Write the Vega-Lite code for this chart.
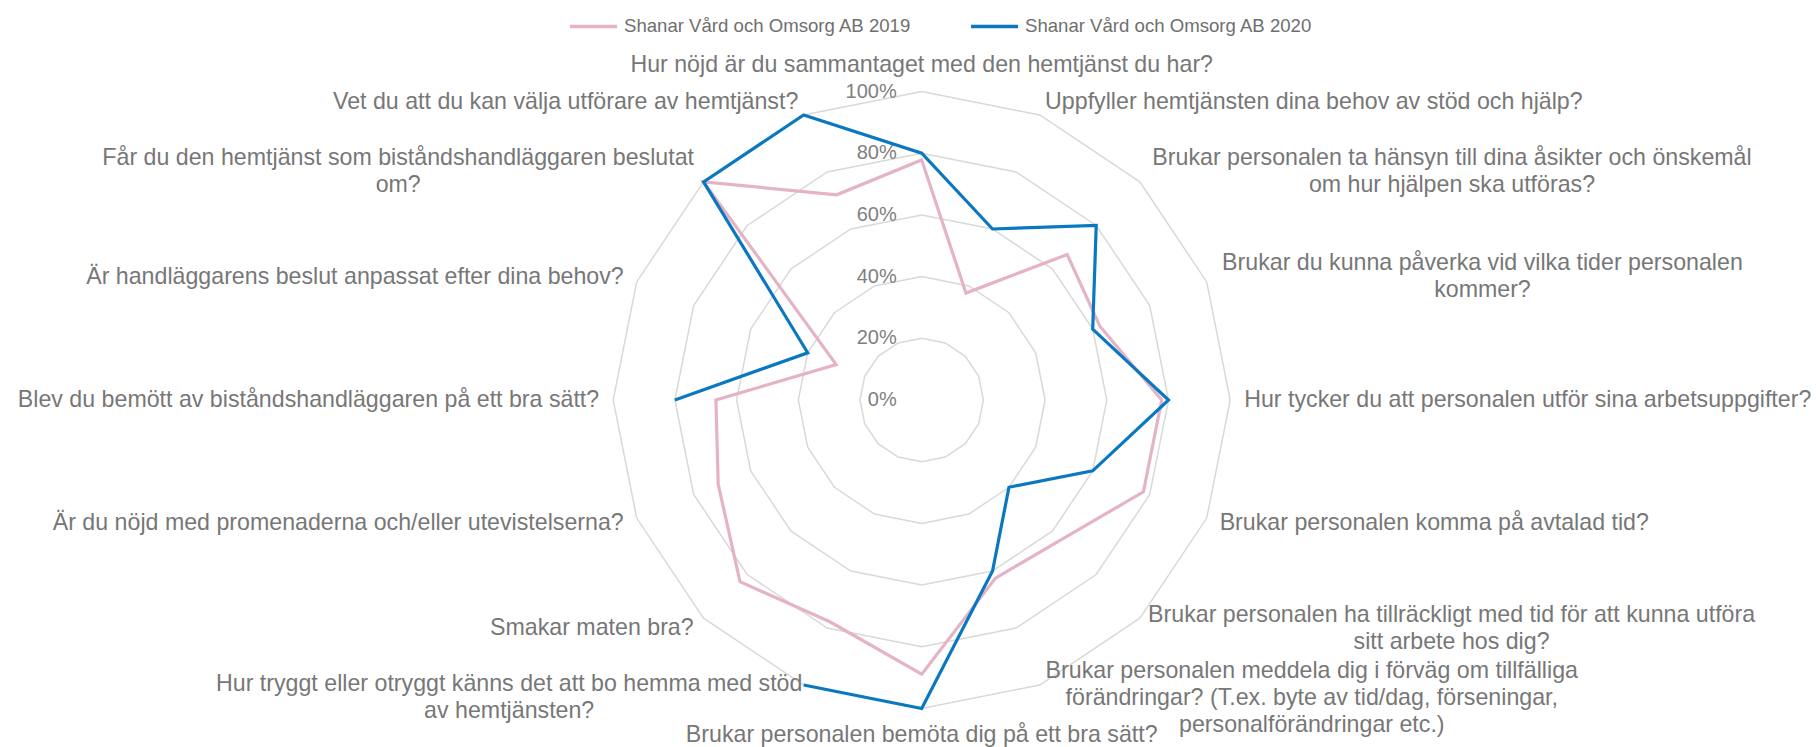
{
  "$schema": "https://vega.github.io/schema/vega-lite/v6.json",
  "width": 1816,
  "height": 747,
  "padding": 0,
  "autosize": {"type": "none"},
  "background": "white",
  "config": {"view": {"stroke": null}, "font": "Liberation Sans"},
  "datasets": {
    "series": [
      {"idx": 0, "series": "Shanar Vård och Omsorg AB 2019", "value": 77.8},
      {"idx": 1, "series": "Shanar Vård och Omsorg AB 2019", "value": 37.5},
      {"idx": 2, "series": "Shanar Vård och Omsorg AB 2019", "value": 66.7},
      {"idx": 3, "series": "Shanar Vård och Omsorg AB 2019", "value": 62.5},
      {"idx": 4, "series": "Shanar Vård och Omsorg AB 2019", "value": 77.8},
      {"idx": 5, "series": "Shanar Vård och Omsorg AB 2019", "value": 77.8},
      {"idx": 6, "series": "Shanar Vård och Omsorg AB 2019", "value": 64},
      {"idx": 7, "series": "Shanar Vård och Omsorg AB 2019", "value": 62.5},
      {"idx": 8, "series": "Shanar Vård och Omsorg AB 2019", "value": 88.9},
      {"idx": 9, "series": "Shanar Vård och Omsorg AB 2019", "value": 77.8},
      {"idx": 10, "series": "Shanar Vård och Omsorg AB 2019", "value": 83.3},
      {"idx": 11, "series": "Shanar Vård och Omsorg AB 2019", "value": 71.4},
      {"idx": 12, "series": "Shanar Vård och Omsorg AB 2019", "value": 66.7},
      {"idx": 13, "series": "Shanar Vård och Omsorg AB 2019", "value": 30},
      {"idx": 14, "series": "Shanar Vård och Omsorg AB 2019", "value": 100},
      {"idx": 15, "series": "Shanar Vård och Omsorg AB 2019", "value": 72},
      {"idx": 0, "series": "Shanar Vård och Omsorg AB 2020", "value": 80},
      {"idx": 1, "series": "Shanar Vård och Omsorg AB 2020", "value": 60},
      {"idx": 2, "series": "Shanar Vård och Omsorg AB 2020", "value": 80},
      {"idx": 3, "series": "Shanar Vård och Omsorg AB 2020", "value": 60},
      {"idx": 4, "series": "Shanar Vård och Omsorg AB 2020", "value": 80},
      {"idx": 5, "series": "Shanar Vård och Omsorg AB 2020", "value": 60},
      {"idx": 6, "series": "Shanar Vård och Omsorg AB 2020", "value": 40},
      {"idx": 7, "series": "Shanar Vård och Omsorg AB 2020", "value": 60},
      {"idx": 8, "series": "Shanar Vård och Omsorg AB 2020", "value": 100},
      {"idx": 9, "series": "Shanar Vård och Omsorg AB 2020", "value": 100},
      {"idx": 10, "series": "Shanar Vård och Omsorg AB 2020", "value": null},
      {"idx": 11, "series": "Shanar Vård och Omsorg AB 2020", "value": null},
      {"idx": 12, "series": "Shanar Vård och Omsorg AB 2020", "value": 80},
      {"idx": 13, "series": "Shanar Vård och Omsorg AB 2020", "value": 40},
      {"idx": 14, "series": "Shanar Vård och Omsorg AB 2020", "value": 100},
      {"idx": 15, "series": "Shanar Vård och Omsorg AB 2020", "value": 100}
    ],
    "cats": [
      {"idx": 0, "rings": [20, 40, 60, 80, 100], "label": ["Hur nöjd är du sammantaget med den hemtjänst du har?"]},
      {"idx": 1, "rings": [20, 40, 60, 80, 100], "label": ["Uppfyller hemtjänsten dina behov av stöd och hjälp?"]},
      {"idx": 2, "rings": [20, 40, 60, 80, 100], "label": ["Brukar personalen ta hänsyn till dina åsikter och önskemål", "om hur hjälpen ska utföras?"]},
      {"idx": 3, "rings": [20, 40, 60, 80, 100], "label": ["Brukar du kunna påverka vid vilka tider personalen", "kommer?"]},
      {"idx": 4, "rings": [20, 40, 60, 80, 100], "label": ["Hur tycker du att personalen utför sina arbetsuppgifter?"]},
      {"idx": 5, "rings": [20, 40, 60, 80, 100], "label": ["Brukar personalen komma på avtalad tid?"]},
      {"idx": 6, "rings": [20, 40, 60, 80, 100], "label": ["Brukar personalen ha tillräckligt med tid för att kunna utföra", "sitt arbete hos dig?"]},
      {"idx": 7, "rings": [20, 40, 60, 80, 100], "label": ["Brukar personalen meddela dig i förväg om tillfälliga", "förändringar? (T.ex. byte av tid/dag, förseningar,", "personalförändringar etc.)"]},
      {"idx": 8, "rings": [20, 40, 60, 80, 100], "label": ["Brukar personalen bemöta dig på ett bra sätt?"]},
      {"idx": 9, "rings": [20, 40, 60, 80, 100], "label": ["Hur tryggt eller otryggt känns det att bo hemma med stöd", "av hemtjänsten?"]},
      {"idx": 10, "rings": [20, 40, 60, 80, 100], "label": ["Smakar maten bra?"]},
      {"idx": 11, "rings": [20, 40, 60, 80, 100], "label": ["Är du nöjd med promenaderna och/eller utevistelserna?"]},
      {"idx": 12, "rings": [20, 40, 60, 80, 100], "label": ["Blev du bemött av biståndshandläggaren på ett bra sätt?"]},
      {"idx": 13, "rings": [20, 40, 60, 80, 100], "label": ["Är handläggarens beslut anpassat efter dina behov?"]},
      {"idx": 14, "rings": [20, 40, 60, 80, 100], "label": ["Får du den hemtjänst som biståndshandläggaren beslutat", "om?"]},
      {"idx": 15, "rings": [20, 40, 60, 80, 100], "label": ["Vet du att du kan välja utförare av hemtjänst?"]}
    ],
    "pcts": [
      {"v": 0, "t": "0%"},
      {"v": 20, "t": "20%"},
      {"v": 40, "t": "40%"},
      {"v": 60, "t": "60%"},
      {"v": 80, "t": "80%"},
      {"v": 100, "t": "100%"}
    ]
  },
  "encoding": {
    "x": {"field": "x", "type": "quantitative", "scale": {"domain": [-921.7, 894.3], "nice": false, "zero": false}, "axis": null},
    "y": {"field": "y", "type": "quantitative", "scale": {"domain": [-347, 400], "nice": false, "zero": false}, "axis": null}
  },
  "layer": [
    {
      "data": {"name": "cats"},
      "transform": [
        {"flatten": ["rings"]},
        {"calculate": "datum.rings/100*308.5*sin(datum.idx*PI/8)", "as": "x"},
        {"calculate": "datum.rings/100*308.5*cos(datum.idx*PI/8)", "as": "y"}
      ],
      "mark": {"type": "line", "interpolate": "linear-closed", "color": "#d9d9d9", "strokeWidth": 1.5},
      "encoding": {
        "detail": {"field": "rings", "type": "nominal"},
        "order": {"field": "idx", "type": "quantitative"}
      }
    },
    {
      "data": {"name": "pcts"},
      "transform": [
        {"calculate": "0 * datum.v", "as": "x"},
        {"calculate": "datum.v/100*308.5", "as": "y"}
      ],
      "mark": {"type": "text", "align": "right", "baseline": "middle", "dx": -25, "fontSize": 20, "color": "#808080"},
      "encoding": {
        "text": {"field": "t", "type": "nominal"}
      }
    },
    {
      "data": {"name": "series"},
      "transform": [
        {"filter": "datum.series == 'Shanar Vård och Omsorg AB 2019'"},
        {"calculate": "datum.value/100*308.5*sin(datum.idx*PI/8)", "as": "x"},
        {"calculate": "datum.value/100*308.5*cos(datum.idx*PI/8)", "as": "y"}
      ],
      "mark": {"type": "line", "interpolate": "linear-closed", "strokeWidth": 3.2},
      "encoding": {
        "color": {
          "field": "series", "type": "nominal",
          "scale": {"domain": ["Shanar Vård och Omsorg AB 2019", "Shanar Vård och Omsorg AB 2020"], "range": ["#e4b3c6", "#0a78c0"]},
          "legend": {"orient": "none", "legendX": 568, "legendY": 0.5, "direction": "horizontal", "title": null, "symbolType": "stroke", "symbolSize": 2209, "symbolStrokeWidth": 3.5, "labelFont": "Liberation Sans", "labelFontSize": 18.6, "labelColor": "#6f6f6f", "labelOffset": 5, "columnPadding": 52, "padding": 0, "labelLimit": 400}
        },
        "order": {"field": "idx", "type": "quantitative"}
      }
    },
    {
      "data": {"name": "series"},
      "transform": [
        {"filter": "datum.series == 'Shanar Vård och Omsorg AB 2020' && isValid(datum.value)"},
        {"calculate": "datum.value/100*308.5*sin(datum.idx*PI/8)", "as": "x"},
        {"calculate": "datum.value/100*308.5*cos(datum.idx*PI/8)", "as": "y"},
        {"calculate": "(datum.idx + 4) % 16", "as": "ord"}
      ],
      "mark": {"type": "line", "interpolate": "linear", "strokeWidth": 3.2},
      "encoding": {
        "color": {"field": "series", "type": "nominal"},
        "order": {"field": "ord", "type": "quantitative"}
      }
    },
    {
      "data": {"name": "cats"},
      "transform": [
        {"calculate": "sin(datum.idx*PI/8)", "as": "s"},
        {"calculate": "cos(datum.idx*PI/8)", "as": "c"},
        {"calculate": "abs(datum.s) > 0.2 ? 322.5 : 335", "as": "rr"},
        {"calculate": "length(datum.label)", "as": "n"},
        {"calculate": "datum.label[0]", "as": "l0"},
        {"calculate": "length(datum.l0)", "as": "L"},
        {"calculate": "datum.L - length(replace(datum.l0, regexp('[ijlftI .,:;]', 'g'), ''))", "as": "n1"},
        {"calculate": "datum.L - length(replace(datum.l0, regexp('[r()/-]', 'g'), ''))", "as": "nr"},
        {"calculate": "datum.L - length(replace(datum.l0, regexp('[mMW]', 'g'), ''))", "as": "nm"},
        {"calculate": "datum.L - length(replace(datum.l0, regexp('[A-HJ-LN-VX-ZÅÄÖ]', 'g'), ''))", "as": "nu"},
        {"calculate": "0.55*datum.L - 0.30*datum.n1 - 0.217*datum.nr + 0.283*datum.nm + 0.14*datum.nu", "as": "em"},
        {"calculate": "datum.rr*datum.s + (datum.s > 0.2 ? 1 : datum.s < -0.2 ? -1 : 0) * (datum.n > 1 ? 23.2*datum.em/2 : 0)", "as": "x"},
        {"calculate": "datum.rr*datum.c + (datum.n - 1)*27/2", "as": "y"}
      ],
      "layer": [
        {
          "transform": [{"filter": "datum.s > 0.2 && datum.n == 1"}],
          "mark": {"type": "text", "align": "left", "baseline": "middle", "fontSize": 23.2, "color": "#777777", "lineHeight": 27},
          "encoding": {"text": {"field": "label", "type": "nominal"}}
        },
        {
          "transform": [{"filter": "datum.s < -0.2 && datum.n == 1"}],
          "mark": {"type": "text", "align": "right", "baseline": "middle", "fontSize": 23.2, "color": "#777777", "lineHeight": 27},
          "encoding": {"text": {"field": "label", "type": "nominal"}}
        },
        {
          "transform": [{"filter": "abs(datum.s) <= 0.2 || datum.n > 1"}],
          "mark": {"type": "text", "align": "center", "baseline": "middle", "fontSize": 23.2, "color": "#777777", "lineHeight": 27},
          "encoding": {"text": {"field": "label", "type": "nominal"}}
        }
      ]
    }
  ]
}
